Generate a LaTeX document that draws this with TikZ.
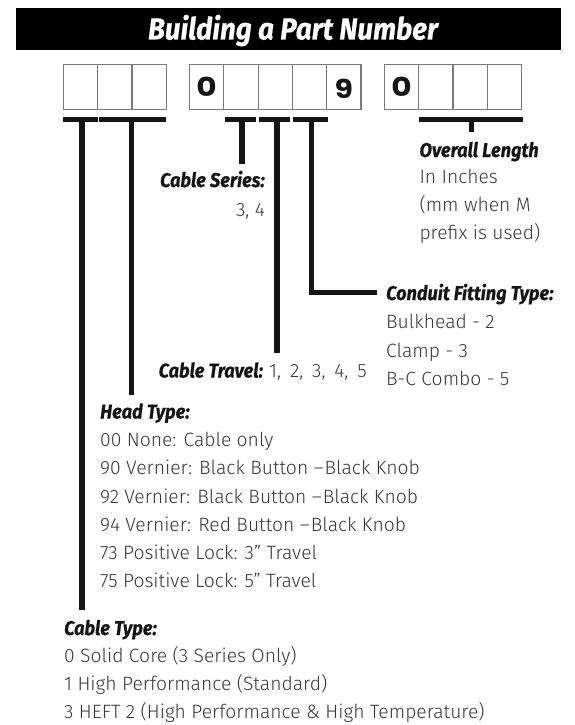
\documentclass[tikz,border=0pt]{standalone}
\usepackage{fontspec}
\setmainfont{Fira Sans Light}
\newfontfamily\headfont{Fira Sans}[FakeStretch=0.91, FakeBold=0.6]
\newfontfamily\digitfont{Poppins}
\definecolor{txt}{HTML}{383838}
\definecolor{cellgray}{HTML}{7A7A7A}
\definecolor{ink}{HTML}{151515}
\begin{document}
\begin{tikzpicture}[x=1pt,y=-1pt,
  cell/.style={draw=cellgray, line width=1.2pt, minimum width=34.3pt, minimum height=45pt, inner sep=0pt, outer sep=0pt},
  digit/.style={font=\digitfont\bfseries\fontsize{26}{26}\selectfont, text=ink, inner sep=0pt},
  bar/.style={draw=ink, line width=5pt, line cap=butt},
  stem/.style={draw=ink, line width=5.5pt, line cap=butt, line join=miter},
  head/.style={font=\headfont\bfseries\itshape\fontsize{20}{20}\selectfont, text=ink, inner sep=0pt},
  body/.style={font=\fontsize{19.3}{19.3}\selectfont, text=txt, inner sep=0pt}]
\useasboundingbox (0,0) rectangle (575,725);
% title
\node[fill=black, minimum width=545pt, minimum height=42pt, inner sep=0pt, anchor=north west] (titlebar) at (15.5,7.5) {};
\node[font=\headfont\bfseries\itshape\fontsize{30.5}{30.5}\selectfont, text=white, inner sep=0pt, anchor=base] (titletext) at (293,39.5) {Building a Part Number};
% cells
\foreach \x [count=\i] in {80.45,114.75,149.05} \node[cell] (a\i) at (\x,86.8) {};
\foreach \x [count=\i] in {206.65,240.95,275.25,309.55,343.85} \node[cell] (b\i) at (\x,86.8) {};
\foreach \x [count=\i] in {401.45,435.75,470.05,504.35} \node[cell] (c\i) at (\x,86.8) {};
\node[digit] (d1) at (b1) {\scalebox{1.2}[1]{0}};
\node[digit] (d2) at ([yshift=-2.5pt]b5) {\scalebox{1.15}[1]{9}};
\node[digit] (d3) at (c1) {\scalebox{1.2}[1]{0}};
% bars
\draw[bar] (63.3,119.2) -- (97.7,119.2);
\draw[bar] (99,119.2) -- (165.5,119.2);
\draw[bar] (225,119.2) -- (256,119.2);
\draw[bar] (259.3,119.2) -- (290,119.2);
\draw[bar] (293.3,119.2) -- (328.3,119.2);
\draw[bar] (419.3,119.2) -- (523.3,119.2);
% labels
\node[head, anchor=base east] (serH) at (265,187) {Cable Series:};
\node[body, anchor=base east] (serB) at (265,216) {3, 4};
\node[head, anchor=base west] (ovH) at (419.3,157) {Overall Length};
\foreach \t [count=\i] in {{In Inches},{(mm when M},{prefix is used)}}
  \node[body, anchor=base west] (ov\i) at (419.3,{183.5+28.2*(\i-1)}) {\t};
\node[head, anchor=base west] (cfH) at (386,300) {Conduit Fitting Type:};
\foreach \t [count=\i] in {{Bulkhead - 2},{Clamp - 3},{B-C Combo - 5}}
  \node[body, anchor=base west] (cf\i) at (386,{328.8+28.3*(\i-1)}) {\t};
\node[head, anchor=base west] (trH) at (158.5,377.5) {Cable Travel:};
\node[body, anchor=base west] (trB) at (269,377.5) {1,\hspace{3.5pt} 2,\hspace{3.5pt} 3,\hspace{3.5pt} 4,\hspace{3.5pt} 5};
\node[head, anchor=base west] (htH) at (100,418.5) {Head Type:};
\foreach \t [count=\i] in {{00 None: Cable only},
  {90 Vernier: Black Button –\hspace{1pt}Black Knob},
  {92 Vernier: Black Button –\hspace{1pt}Black Knob},
  {94 Vernier: Red Button –\hspace{1pt}Black Knob},
  {73 Positive Lock: 3" Travel},
  {75 Positive Lock: 5" Travel}}
  \node[body, anchor=base west] (ht\i) at (100,{446.7+28.2*(\i-1)}) {\t};
\node[head, anchor=base west] (ctH) at (64,635) {Cable Type:};
\foreach \t [count=\i] in {{0 Solid Core (3 Series Only)},
  {1 High Performance (Standard)},
  {3 HEFT 2 (High Performance \& High Temperature)}}
  \node[body, anchor=base west] (ct\i) at (64,{662.7+27.9*(\i-1)}) {\t};
% stems
\coordinate (s1) at (82,119.2);   \coordinate (e1) at (82,610);
\coordinate (s2) at (131.5,119.2);\coordinate (e2) at (131.5,395);
\coordinate (sA) at (242,119.2);  \coordinate (eA) at (242,164);
\coordinate (sB) at (277,119.2);  \coordinate (eB) at (277,353.3);
\coordinate (sC) at (311.5,119.2);\coordinate (eC) at (377,292.5);
\coordinate (sD) at (471.5,119.2);\coordinate (eD) at (471.5,131.7);
\draw[stem] (s1) -- (e1);
\draw[stem] (s2) -- (e2);
\draw[stem] (sA) -- (eA);
\draw[stem] (sB) -- (eB);
\draw[stem] (sC) |- (eC);
\draw[stem] (sD) -- (eD);
\end{tikzpicture}
\end{document}
